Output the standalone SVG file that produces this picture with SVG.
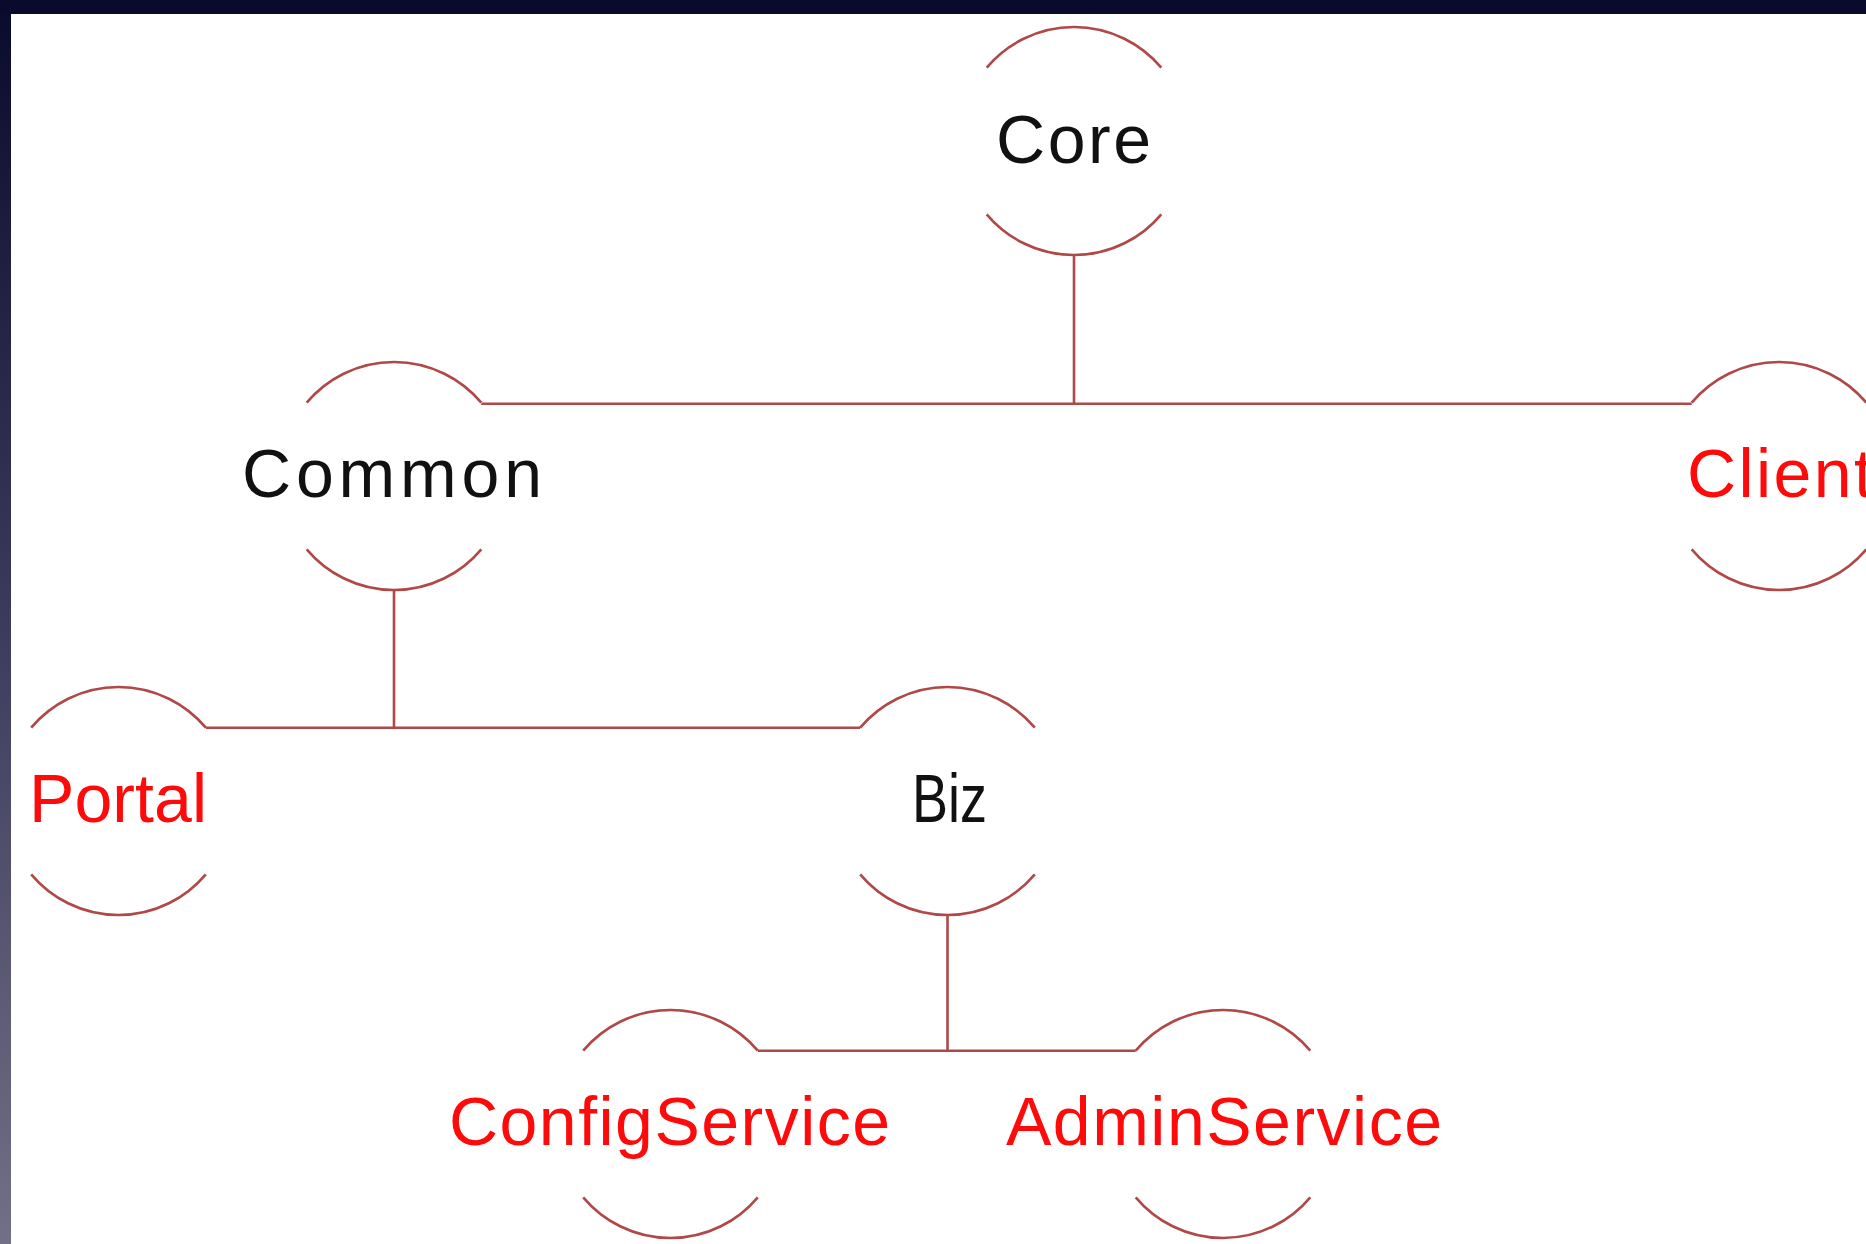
<svg xmlns="http://www.w3.org/2000/svg" width="1866" height="1244" viewBox="0 0 1866 1244">
<defs>
<linearGradient id="bg" x1="0" y1="0" x2="0" y2="1">
<stop offset="0" stop-color="#0a0a2c"/>
<stop offset="0.5" stop-color="#3c3b5c"/>
<stop offset="1" stop-color="#727086"/>
</linearGradient>
<style>
.arc{fill:none;stroke:#b04848;stroke-width:2.6}
.ln{fill:none;stroke:#b04848;stroke-width:2.6}
.t{font-family:"Liberation Sans",Arial,sans-serif;font-size:68px;text-anchor:middle}
.k{fill:#111}
.r{fill:#ff0a0a}
</style>
</defs>
<rect x="0" y="0" width="1866" height="1244" fill="url(#bg)"/>
<rect x="0" y="0" width="1866" height="14" fill="#0a0a2c"/>
<rect x="11" y="14" width="1855" height="1230" fill="#ffffff"/>

<g id="connectors">
<path class="ln" d="M1074 255 V403.7"/>
<path class="ln" d="M481.3 403.7 H1691.7"/>
<path class="ln" d="M394 590 V727.7"/>
<path class="ln" d="M205.8 727.7 H860.2"/>
<path class="ln" d="M947.5 915 V1050.7"/>
<path class="ln" d="M757.8 1050.7 H1135.7"/>
</g>

<g id="core">
<path class="arc" d="M986.7 67.7 A114 114 0 0 1 1161.3 67.7 M986.7 214.3 A114 114 0 0 0 1161.3 214.3"/>
<text class="t k" x="1073.5" y="163" textLength="155">Core</text>
</g>

<g id="common">
<path class="arc" d="M306.7 402.7 A114 114 0 0 1 481.3 402.7 M306.7 549.3 A114 114 0 0 0 481.3 549.3"/>
<text class="t k" x="392" y="497" textLength="300">Common</text>
</g>

<g id="client">
<path class="arc" d="M1691.7 402.7 A114 114 0 0 1 1866.3 402.7 M1691.7 549.3 A114 114 0 0 0 1866.3 549.3"/>
<text class="t r" x="1780" y="497" textLength="186">Client</text>
</g>

<g id="portal">
<path class="arc" d="M31.2 727.7 A114 114 0 0 1 205.8 727.7 M31.2 874.3 A114 114 0 0 0 205.8 874.3"/>
<text class="t r" x="118" y="822" textLength="178">Portal</text>
</g>

<g id="biz">
<path class="arc" d="M860.2 727.7 A114 114 0 0 1 1034.8 727.7 M860.2 874.3 A114 114 0 0 0 1034.8 874.3"/>
<text class="t k" x="949.5" y="822" textLength="75" lengthAdjust="spacingAndGlyphs">Biz</text>
</g>

<g id="configservice">
<path class="arc" d="M583.2 1050.7 A114 114 0 0 1 757.8 1050.7 M583.2 1197.3 A114 114 0 0 0 757.8 1197.3"/>
<text class="t r" x="669.5" y="1145" textLength="441">ConfigService</text>
</g>

<g id="adminservice">
<path class="arc" d="M1135.7 1050.7 A114 114 0 0 1 1310.3 1050.7 M1135.7 1197.3 A114 114 0 0 0 1310.3 1197.3"/>
<text class="t r" x="1224" y="1145" textLength="436">AdminService</text>
</g>
</svg>
